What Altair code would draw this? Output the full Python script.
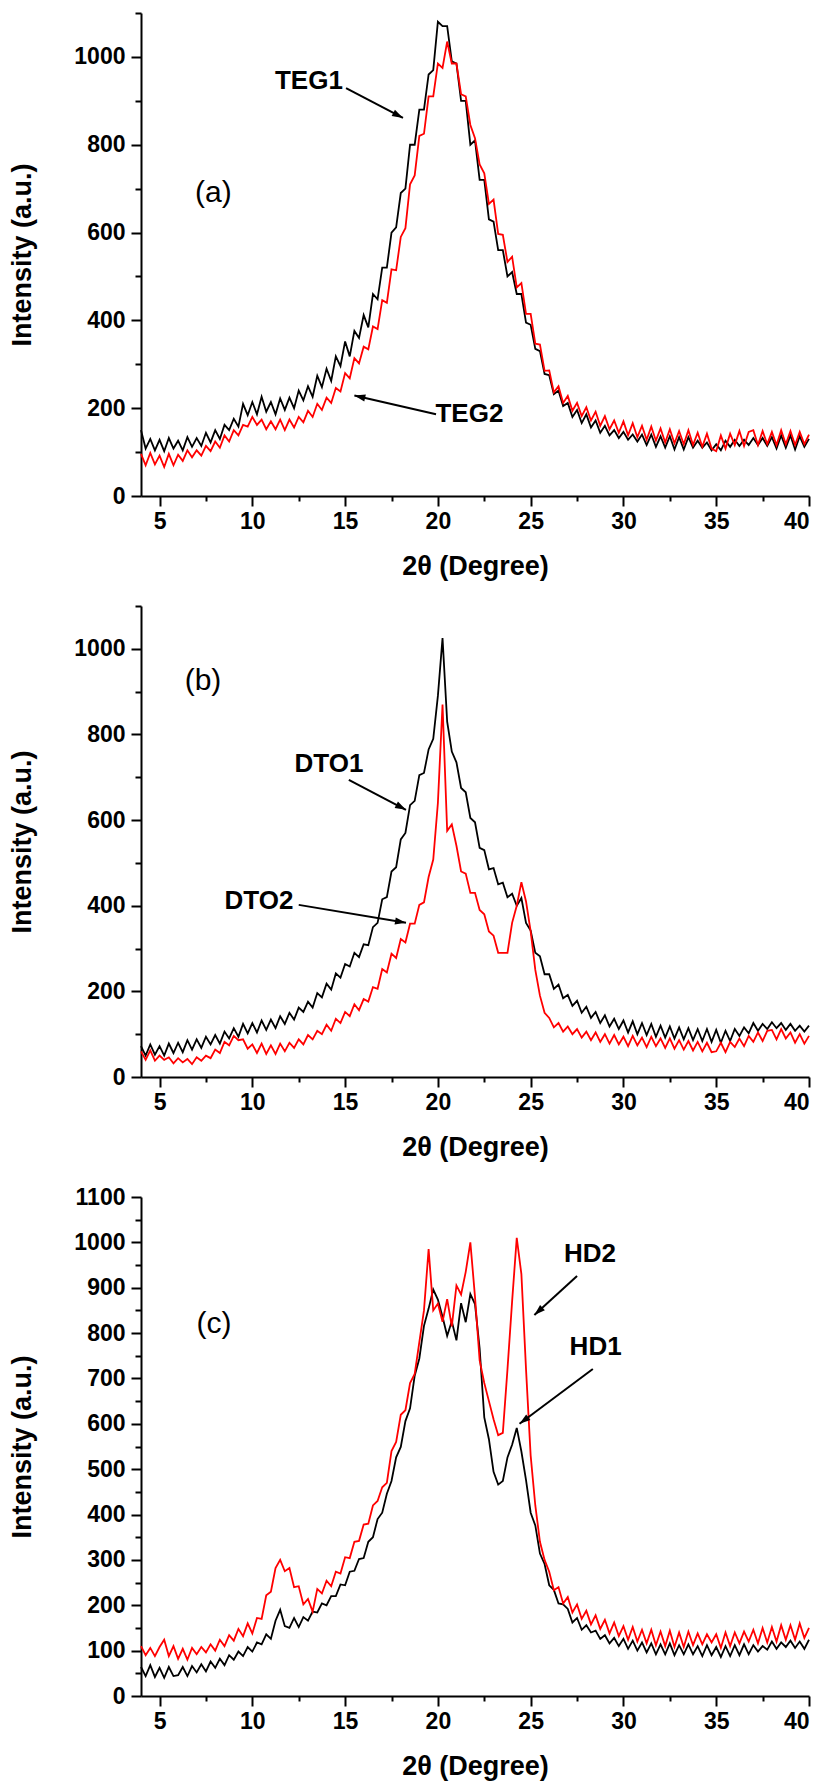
import math
import altair as alt
import pandas as pd

# ---------------- data ----------------
two_theta = [4 + 0.25 * i for i in range(145)]  # sampling grid 4..40 deg (step 0.25)

teg1 = [150, 108, 130, 104, 128, 102, 132, 108, 126, 104, 134, 112, 132, 114, 144, 122,
        150, 130, 162, 150, 176, 158, 210, 184, 214, 186, 226, 192, 214, 186, 222, 196,
        224, 200, 240, 218, 250, 226, 274, 248, 290, 262, 318, 296, 352, 318, 376, 360,
        412, 384, 460, 448, 520, 520, 600, 612, 690, 700, 800, 800, 880, 880, 960, 970,
        1080, 1070, 1070, 990, 985, 900, 900, 800, 810, 720, 720, 630, 625, 560, 560, 500,
        510, 460, 460, 395, 390, 335, 330, 278, 275, 232, 240, 205, 212, 180, 196, 166,
        186, 156, 172, 144, 160, 138, 150, 132, 146, 128, 140, 124, 140, 116, 140, 112,
        136, 110, 136, 106, 134, 106, 134, 110, 126, 110, 122, 104, 118, 104, 126, 112,
        128, 114, 128, 116, 132, 116, 132, 114, 134, 108, 138, 110, 138, 106, 136, 112,
        130]
teg2 = [96, 70, 98, 72, 92, 66, 96, 70, 94, 80, 104, 88, 104, 92, 114, 102,
        124, 110, 138, 124, 150, 138, 162, 158, 180, 162, 174, 152, 170, 152, 174, 150,
        174, 156, 180, 168, 194, 180, 210, 196, 224, 212, 246, 238, 280, 268, 314, 302,
        340, 334, 386, 380, 446, 440, 516, 514, 590, 610, 710, 730, 820, 825, 910, 910,
        985, 975, 1035, 985, 985, 915, 910, 845, 815, 755, 735, 665, 675, 597, 595, 533,
        545, 475, 485, 415, 415, 347, 345, 285, 286, 236, 250, 212, 228, 194, 212, 182,
        202, 172, 192, 160, 182, 152, 172, 144, 170, 138, 166, 134, 160, 128, 158, 126,
        154, 122, 152, 120, 148, 118, 150, 116, 144, 112, 142, 108, 102, 138, 108, 142,
        116, 148, 114, 146, 150, 116, 148, 118, 146, 116, 150, 118, 148, 116, 146, 118,
        140]
dto1 = [72, 50, 76, 52, 72, 50, 78, 56, 80, 58, 86, 64, 88, 68, 94, 76,
        98, 78, 106, 90, 114, 94, 124, 102, 126, 104, 132, 110, 134, 114, 142, 124,
        150, 134, 162, 152, 176, 162, 196, 186, 218, 204, 242, 232, 264, 258, 290, 280,
        310, 308, 350, 360, 415, 420, 480, 490, 555, 570, 635, 645, 705, 710, 765, 790,
        890, 1025, 830, 760, 735, 675, 665, 605, 595, 535, 530, 485, 488, 450, 454, 420,
        428, 400, 418, 360, 342, 290, 282, 240, 240, 206, 216, 184, 192, 166, 178, 150,
        164, 138, 152, 126, 144, 118, 136, 112, 132, 104, 130, 100, 126, 98, 124, 94,
        120, 92, 118, 90, 116, 88, 114, 86, 112, 84, 112, 82, 110, 80, 108, 84,
        112, 96, 116, 102, 126, 108, 124, 112, 128, 114, 126, 110, 124, 108, 120, 106,
        120]
dto2 = [60, 40, 62, 38, 50, 40, 46, 32, 44, 34, 42, 30, 46, 38, 50, 44,
        64, 56, 82, 74, 96, 86, 88, 66, 76, 56, 78, 54, 74, 54, 78, 60,
        80, 68, 88, 76, 98, 88, 108, 100, 122, 108, 136, 126, 152, 142, 170, 156,
        182, 176, 210, 206, 252, 244, 288, 278, 322, 314, 358, 358, 402, 408, 467, 508,
        640, 870, 575, 590, 540, 480, 475, 430, 430, 390, 380, 340, 330, 290, 290, 290,
        360, 400, 455, 410, 340, 250, 190, 150, 138, 116, 126, 106, 118, 100, 112, 92,
        106, 86, 104, 82, 100, 78, 98, 76, 94, 72, 96, 74, 92, 70, 94, 72,
        90, 68, 90, 66, 86, 64, 84, 62, 82, 60, 80, 58, 60, 80, 58, 82,
        70, 90, 72, 96, 82, 104, 84, 108, 110, 88, 112, 90, 104, 80, 100, 78,
        96]
hd1 = [64, 44, 68, 42, 62, 40, 64, 44, 46, 64, 44, 66, 52, 70, 54, 76,
       62, 82, 68, 90, 80, 98, 88, 108, 98, 118, 114, 136, 126, 166, 190, 154,
       150, 172, 152, 174, 166, 186, 184, 204, 200, 220, 220, 246, 244, 274, 276, 302,
       304, 340, 350, 390, 404, 446, 474, 526, 549, 606, 634, 706, 744, 816, 854, 896,
       874, 836, 794, 826, 784, 866, 824, 886, 864, 766, 614, 566, 494, 466, 474, 526,
       554, 591, 539, 476, 404, 376, 314, 291, 244, 234, 204, 202, 192, 162, 172, 146,
       156, 140, 144, 126, 134, 116, 128, 110, 126, 104, 122, 100, 118, 96, 116, 92,
       114, 92, 116, 90, 112, 92, 114, 92, 110, 88, 112, 90, 108, 86, 110, 88,
       112, 90, 114, 92, 112, 98, 110, 102, 120, 104, 118, 108, 122, 106, 120, 104,
       124]
hd2 = [110, 90, 106, 88, 108, 124, 88, 110, 82, 104, 80, 106, 92, 108, 96, 114,
       100, 124, 110, 134, 122, 148, 132, 160, 138, 172, 170, 222, 230, 282, 300, 275,
       282, 240, 242, 202, 214, 186, 236, 226, 254, 242, 274, 270, 306, 304, 340, 342,
       378, 380, 420, 430, 460, 470, 540, 560, 620, 630, 690, 710, 780, 850, 985, 850,
       865, 825, 875, 815, 905, 885, 935, 1000, 880, 740, 690, 650, 610, 575, 580, 720,
       870, 1010, 930, 720, 530, 420, 340, 300, 274, 233, 240, 204, 218, 184, 202, 170,
       188, 158, 178, 148, 168, 138, 162, 132, 154, 124, 152, 120, 146, 116, 146, 112,
       142, 110, 144, 108, 140, 108, 142, 112, 138, 114, 136, 118, 136, 106, 140, 110,
       140, 116, 142, 120, 146, 116, 150, 118, 152, 120, 156, 124, 156, 124, 160, 128,
       150]

# annotation labels: (x, y, text)
labels_a = [(13.05, 945, "TEG1"), (21.7, 186, "TEG2")]
labels_b = [(14.13, 731, "DTO1"), (10.36, 411, "DTO2")]
labels_c = [(28.2, 974, "HD2"), (28.5, 769, "HD1")]
# arrows: (x_tail, y_tail, x_head, y_head)
arrows_a = [(15.05, 929, 18.12, 861), (19.9, 186, 15.5, 229)]
arrows_b = [(15.2, 694, 18.28, 624), (12.5, 402, 18.28, 360)]
arrows_c = [(27.5, 926, 25.2, 840), (28.35, 721, 24.4, 600)]
panel_tags = [(7.9, 690, "(a)"), (7.34, 925, "(b)"), (7.93, 820, "(c)")]

x_ticks = [5 + 2.5 * i for i in range(15)]

# ---------------- styling ----------------
W = 668
X_MIN, X_MAX, Y_MAX = 4, 40, 1100
FONT = "Liberation Sans, Arial, sans-serif"
ARROW = "M0,0L-2,-0.65L-2,0.65Z"

xscale = alt.Scale(domain=[X_MIN, X_MAX], nice=False, zero=False)
yscale = alt.Scale(domain=[0, Y_MAX], nice=False, zero=True)


def x_axis():
    return alt.Axis(
        values=x_ticks,
        labelExpr="datum.value % 5 == 0 ? datum.label : ''",
        tickSize={"condition": {"test": "datum.value % 5 == 0", "value": 10}, "value": 5},
        title="2\u03b8 (Degree)",
        titlePadding=20,
        labelPadding=4,
        grid=False,
    )


def y_axis(step, label_step):
    vals = [step * i for i in range(int(Y_MAX / step) + 1)]
    return alt.Axis(
        values=vals,
        labelExpr=f"datum.value % {label_step} == 0 ? datum.label : ''",
        tickSize={"condition": {"test": f"datum.value % {label_step} == 0", "value": 10}, "value": 6},
        title="Intensity (a.u.)",
        titlePadding=37,
        labelPadding=6,
        grid=False,
        format="d",
    )


def panel(black, red, labels, arrows, tag, height, step, label_step):
    xa = x_axis()
    ya = y_axis(step, label_step)
    X = lambda f: alt.X(f, type="quantitative", scale=xscale, axis=xa)
    Y = lambda f: alt.Y(f, type="quantitative", scale=yscale, axis=ya)

    df = pd.DataFrame({"t": two_theta, "b": black, "r": red})
    base = alt.Chart(df)
    line_b = base.mark_line(color="#000000", strokeWidth=1.8).encode(x=X("t"), y=Y("b"))
    line_r = base.mark_line(color="#ff0000", strokeWidth=1.8).encode(x=X("t"), y=Y("r"))

    px_x = W / (X_MAX - X_MIN)
    px_y = height / Y_MAX
    arr = pd.DataFrame(
        [
            dict(x1=a, y1=b, x2=c, y2=d,
                 ang=math.degrees(math.atan2(-(d - b) * px_y, (c - a) * px_x)) % 360)
            for a, b, c, d in arrows
        ]
    )
    shafts = alt.Chart(arr).mark_rule(color="black", strokeWidth=2).encode(
        x=X("x1"), y=Y("y1"), x2="x2:Q", y2="y2:Q"
    )
    heads = alt.Chart(arr).mark_point(
        shape=ARROW, filled=True, size=120, color="black", opacity=1, strokeWidth=0
    ).encode(x=X("x2"), y=Y("y2"), angle=alt.Angle("ang:Q", scale=None))

    lab = pd.DataFrame(labels, columns=["x", "y", "txt"])
    texts = alt.Chart(lab).mark_text(
        font=FONT, fontSize=26, fontWeight="bold", align="center", baseline="middle", color="black"
    ).encode(x=X("x"), y=Y("y"), text="txt:N")

    tg = pd.DataFrame([tag], columns=["x", "y", "txt"])
    tag_mark = alt.Chart(tg).mark_text(
        font=FONT, fontSize=30, fontWeight="normal", align="center", baseline="middle", color="black"
    ).encode(x=X("x"), y=Y("y"), text="txt:N")

    return alt.layer(line_b, line_r, shafts, heads, texts, tag_mark).properties(width=W, height=height)


pa = panel(teg1, teg2, labels_a, arrows_a, panel_tags[0], 483, 100, 200)
pb = panel(dto1, dto2, labels_b, arrows_b, panel_tags[1], 471, 100, 200)
pc = panel(hd1, hd2, labels_c, arrows_c, panel_tags[2], 499, 50, 100)

chart = alt.vconcat(pa, pb, pc, spacing=26).properties(
    padding={"top": 12, "left": 8, "right": 5, "bottom": 2},
    background="white",
).configure_view(stroke=None).configure_axis(
    domainColor="black", domainWidth=2, tickColor="black", tickWidth=2,
    labelFont=FONT, labelFontSize=23, labelFontWeight="bold", labelColor="black",
    titleFont=FONT, titleFontSize=27, titleFontWeight="bold", titleColor="black",
)

chart.save("out.html", embed_options={"renderer": "svg", "actions": False})
